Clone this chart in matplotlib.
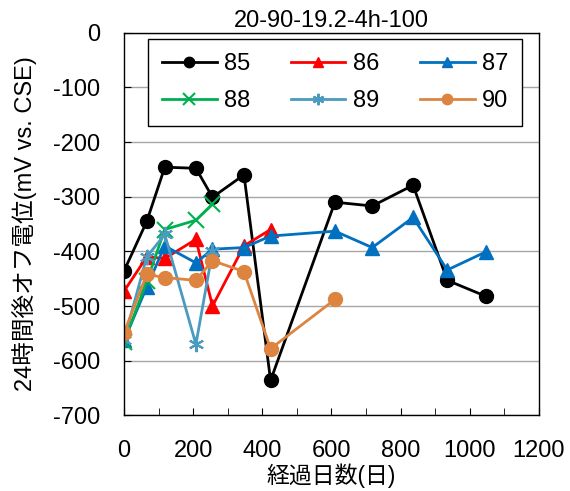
import matplotlib
matplotlib.use("Agg")
import matplotlib.pyplot as plt
from matplotlib.ticker import MultipleLocator

plt.rcParams['font.family'] = ['Liberation Sans', 'Noto Sans CJK JP', 'DejaVu Sans']
plt.rcParams['axes.unicode_minus'] = False

# elapsed days and 24 h off-potential (mV vs. CSE) per specimen
days = [0, 66, 118, 208, 256, 347, 424, 610, 718, 836, 935, 1046]

s85 = [-436, -345, -246, -248, -301, -260, -636, -310, -317, -279, -453, -482]
s86 = [-473, -410, -413, -378, -500, -390, -360]
s87 = [-563, -465, -390, -421, -396, -393, -372, -363, -393, -338, -434, -401]
s88 = [-566, -455, -360, -343, -314]
s89 = [-562, -410, -369, -570, -400]
s90 = [-549, -442, -448, -453, -417, -437, -578, -488]

title = "20-90-19.2-4h-100"
xlabel = "経過日数(日)"
ylabel = "24時間後オフ電位(mV vs. CSE)"

series = [
    ("85", s85, "#000000", "o"),
    ("86", s86, "#FF0000", "^"),
    ("87", s87, "#0070C0", "^"),
    ("88", s88, "#00B050", "x"),
    ("89", s89, "#4A9BBF", (6, 2, 0)),
    ("90", s90, "#DD8440", "o"),
]

fig = plt.figure(figsize=(5.70, 4.91), dpi=100)
ax = fig.add_axes([0.2175, 0.154, 0.728, 0.7794])

handles = {}
for name, vals, color, marker in series:
    x = days[:len(vals)]
    thin = marker == "x" or isinstance(marker, tuple)
    (h,) = ax.plot(x, vals, color=color, marker=marker,
                   markersize=11 if thin else 10,
                   linewidth=2, markeredgewidth=1.5 if thin else 1,
                   markeredgecolor=color, label=name)
    handles[name] = h

ax.set_xlim(0, 1200)
ax.set_ylim(-700, 0)
ax.xaxis.set_major_locator(MultipleLocator(200))
ax.xaxis.set_minor_locator(MultipleLocator(100))
ax.yaxis.set_major_locator(MultipleLocator(100))
ax.grid(axis='y', color='#A6A6A6', linewidth=1)
ax.set_axisbelow(True)

ax.tick_params(axis='both', which='both', direction='in', labelsize=17, color='black')
ax.tick_params(axis='x', which='major', length=5, pad=18)
ax.tick_params(axis='x', which='minor', length=5)
ax.tick_params(axis='y', which='major', length=5, pad=17)
for sp in ax.spines.values():
    sp.set_color('black')
    sp.set_linewidth(1)

ax.set_title(title, fontsize=17, pad=4)
ax.set_xlabel(xlabel, fontsize=16.5)
ax.xaxis.set_label_coords(0.5, -0.125)
ax.set_ylabel(ylabel, fontsize=17)
ax.yaxis.set_label_coords(-0.21, 0.5)

order = ["85", "88", "86", "89", "87", "90"]
leg = ax.legend([handles[k] for k in order], order, ncol=3, loc='upper left',
                bbox_to_anchor=(0.058, 0.9835), fontsize=17, frameon=True,
                fancybox=False, edgecolor='black', framealpha=1,
                handlelength=2.3, handletextpad=0.3, columnspacing=1.75,
                labelspacing=0.62, borderpad=0.6, borderaxespad=0, markerscale=0.75)
leg.get_frame().set_linewidth(1)

fig.savefig("out.png", dpi=100)
